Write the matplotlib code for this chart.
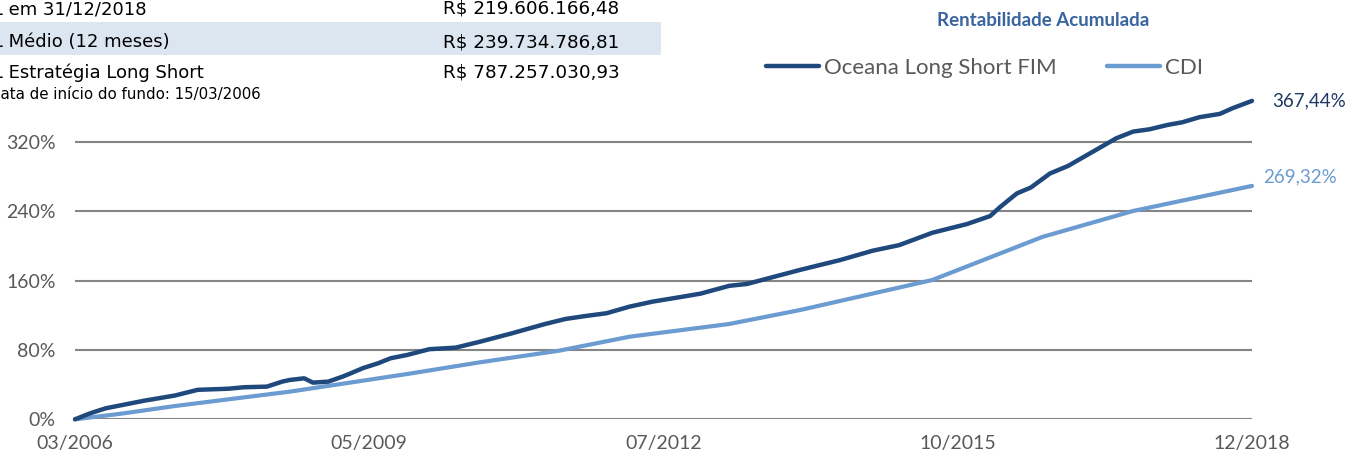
import matplotlib
matplotlib.use("Agg")
import matplotlib.pyplot as plt
import matplotlib.dates as mdates
from matplotlib.patches import Rectangle
import numpy as np
import pandas as pd

# ---------------- data ----------------
oceana_dates = ["2006-03-15", "2006-05-15", "2006-07-15", "2006-12-15", "2007-04-15",
                "2007-07-15", "2007-11-15", "2008-01-15", "2008-04-15", "2008-06-15",
                "2008-07-15", "2008-09-10", "2008-10-15", "2008-12-15", "2009-02-10",
                "2009-03-15", "2009-05-01", "2009-07-01", "2009-08-20", "2009-10-25",
                "2010-01-20", "2010-05-05", "2010-08-10", "2010-12-15", "2011-04-25",
                "2011-07-15", "2011-10-05", "2011-12-25", "2012-03-25", "2012-06-25",
                "2012-10-10", "2013-01-01", "2013-04-25", "2013-07-05", "2014-01-30",
                "2014-07-10", "2014-11-15", "2015-03-01", "2015-07-10", "2015-11-25",
                "2016-02-25", "2016-04-05", "2016-06-10", "2016-08-05", "2016-10-20",
                "2016-12-30", "2017-04-20", "2017-07-10", "2017-09-15", "2017-11-20",
                "2018-01-30", "2018-03-30", "2018-06-05", "2018-08-25", "2018-10-15",
                "2018-12-31"]
oceana_values = [0.0, 7.0, 12.7, 21.5, 27.4,
                 34.0, 35.3, 37.0, 37.7, 43.5,
                 45.4, 47.3, 42.3, 43.5, 49.3,
                 53.2, 59.0, 64.7, 70.5, 74.3,
                 80.9, 82.7, 89.6, 99.3, 110.0,
                 115.8, 119.3, 122.4, 130.0, 135.8,
                 140.9, 145.0, 154.0, 156.2, 172.3,
                 183.8, 194.5, 201.0, 215.2, 225.3,
                 234.5, 245.0, 260.6, 267.5, 283.7,
                 292.3, 310.8, 324.3, 332.0, 334.7,
                 339.7, 342.8, 348.6, 352.4, 359.0,
                 367.44]

cdi_dates = ["2006-03-15", "2006-09-15", "2007-04-15", "2008-01-15", "2008-07-15",
             "2009-10-25", "2010-08-10", "2011-06-20", "2012-03-25", "2013-04-25",
             "2014-01-30", "2015-07-10", "2016-09-20", "2017-09-15", "2018-12-31"]
cdi_values = [0.0, 6.5, 15.3, 25.3, 31.9,
              52.3, 65.8, 79.2, 95.3, 110.0,
              126.0, 160.7, 210.5, 240.4, 269.32]

series_names = ["Oceana Long Short FIM", "CDI"]
y_ticks = [0, 80, 160, 240, 320]
x_tick_labels = ["03/2006", "05/2009", "07/2012", "10/2015", "12/2018"]

table_labels = ["PL em 31/12/2018", "PL Médio (12 meses)", "PL Estratégia Long Short"]
table_values = ["R$ 219.606.166,48", "R$ 239.734.786,81", "R$ 787.257.030,93"]
start_note = "Data de início do fundo: 15/03/2006"
title = "Rentabilidade Acumulada"

# ---------------- style ----------------
W, H = 1349, 457
DARK = "#1F497D"
LIGHT = "#6A9BD1"
GRID = "#858585"
TXT = "#595959"
FONT = "Lato"

fig = plt.figure(figsize=(W / 100, H / 100), dpi=100)

def fx(px):
    return px / W

def fy(py):
    return 1 - py / H

ymax = 370
ax = fig.add_axes([fx(75), fy(419.3), fx(1252) - fx(75), ymax * 0.8666 / H])

od = pd.to_datetime(oceana_dates)
cd = pd.to_datetime(cdi_dates)

l1, = ax.plot(od, oceana_values, color=DARK, lw=3.2, solid_capstyle="round",
              solid_joinstyle="round", zorder=4, clip_on=False, label=series_names[0])
l2, = ax.plot(cd, cdi_values, color=LIGHT, lw=3.0, solid_capstyle="round",
              solid_joinstyle="round", zorder=3, clip_on=False, label=series_names[1])

x0 = mdates.date2num(od[0])
x1 = mdates.date2num(od[-1])
ax.set_xlim(x0, x1)
ax.set_ylim(0, ymax)

ax.set_yticks(y_ticks)
ax.set_yticklabels([f"{v}%" for v in y_ticks])
ax.set_xticks(np.linspace(x0, x1, len(x_tick_labels)))
ax.set_xticklabels(x_tick_labels)

for s in ax.spines.values():
    s.set_visible(False)
ax.tick_params(axis="both", length=0, labelcolor=TXT, labelsize=14)
ax.tick_params(axis="y", pad=14)
ax.tick_params(axis="x", pad=11)
for lab in ax.get_xticklabels() + ax.get_yticklabels():
    lab.set_fontfamily(FONT)
ax.yaxis.grid(True, color=GRID, lw=1.5)
ax.set_axisbelow(True)

# end labels
ax.annotate(f"{oceana_values[-1]:.2f}%".replace(".", ","), xy=(od[-1], oceana_values[-1]),
            xytext=(20, 0), textcoords="offset pixels", ha="left", va="center",
            color="#1F3864", fontsize=13.5, fontfamily=FONT, annotation_clip=False)
ax.annotate(f"{cdi_values[-1]:.2f}%".replace(".", ","), xy=(cd[-1], cdi_values[-1]),
            xytext=(11, 9.5), textcoords="offset pixels", ha="left", va="center",
            color=LIGHT, fontsize=13.5, fontfamily=FONT, annotation_clip=False)

# title and legend
fig.text(fx(1043), fy(26.5), title, ha="center", va="baseline", fontsize=13.5,
         fontweight="bold", color="#3A64A0", fontfamily=FONT)
fs_leg = 16
em = fs_leg * 100 / 72
leg = fig.legend(handles=[l1, l2], loc="center", bbox_to_anchor=(fx(984.5), fy(67.7)),
                 ncol=2, frameon=False, handlelength=53 / em,
                 handletextpad=5 / em, columnspacing=50 / em, borderpad=0,
                 borderaxespad=0, prop={"family": FONT, "size": fs_leg})
for t in leg.get_texts():
    t.set_color(TXT)
for h in leg.legend_handles:
    h.set_linewidth(3.2)

# table
fig.patches.append(Rectangle((0, fy(55)), fx(661), (55 - 22.3) / H,
                             transform=fig.transFigure, facecolor="#DCE6F1",
                             edgecolor="none", zorder=0))
row_baselines = [14, 47, 77.5]
for lbl, val, yb in zip(table_labels, table_values, row_baselines):
    fig.text(fx(-17.5), fy(yb), lbl, ha="left", va="baseline", fontsize=13,
             fontfamily="DejaVu Sans", color="black")
    fig.text(fx(443), fy(yb), val, ha="left", va="baseline", fontsize=13.2,
             fontfamily="DejaVu Sans", color="black")
fig.text(fx(-11.5), fy(99), start_note, ha="left", va="baseline", fontsize=10.8,
         fontfamily="DejaVu Sans", color="black")

fig.savefig("out.png", dpi=100)
